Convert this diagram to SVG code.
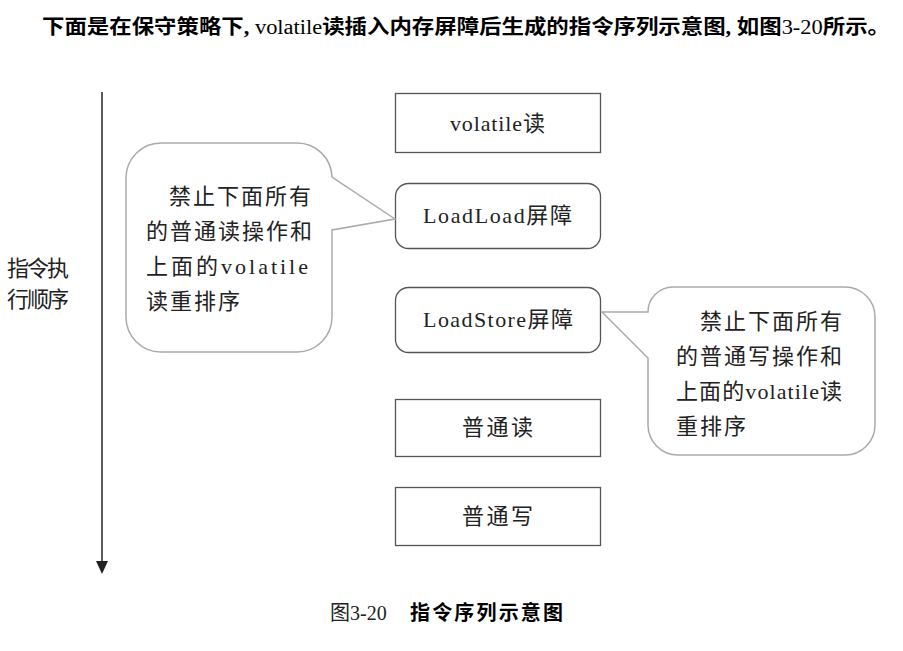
<svg xmlns="http://www.w3.org/2000/svg" width="903" height="651" viewBox="0 0 903 651">
<style>
.t{font-family:"Liberation Serif","Noto Sans CJK SC",serif;fill:#222;}
.box{fill:#fff;stroke:#555;stroke-width:1.3;}
.bub{fill:#fff;stroke:#aaa;stroke-width:1.5;}
.hd{font-family:"Liberation Serif","Noto Sans CJK SC",serif;fill:#000;font-weight:bold;}
</style>
<rect width="903" height="651" fill="#fff"/>
<text class="hd" x="42" y="34" font-size="20" textLength="848" lengthAdjust="spacingAndGlyphs">下面是在保守策略下, <tspan font-weight="normal">volatile</tspan>读插入内存屏障后生成的指令序列示意图, 如图<tspan font-weight="normal">3-20</tspan>所示。</text>
<g id="axis">
<line x1="102" y1="92" x2="102" y2="562" stroke="#222" stroke-width="1.5"/>
<polygon points="96,561 108,561 102,574" fill="#222"/>
<text class="t" x="7" y="276" font-size="22" textLength="62">指令执</text>
<text class="t" x="7" y="307" font-size="22" textLength="62">行顺序</text>
</g>
<g id="connectors"></g>
<g id="n1"><rect class="box" x="395.5" y="93.5" width="205" height="59"/><text class="t" x="450" y="131" font-size="22" textLength="95">volatile读</text></g>
<g id="n2"><rect class="box" x="395.5" y="183.5" width="205" height="65" rx="13"/><text class="t" x="423" y="223" font-size="22" textLength="149">LoadLoad屏障</text></g>
<g id="n3"><rect class="box" x="395.5" y="287.5" width="205" height="65" rx="13"/><text class="t" x="423" y="327" font-size="22" textLength="150">LoadStore屏障</text></g>
<g id="n4"><rect class="box" x="395.5" y="399.5" width="205" height="57"/><text class="t" x="462" y="435" font-size="22" textLength="71">普通读</text></g>
<g id="n5"><rect class="box" x="395.5" y="487.5" width="205" height="58"/><text class="t" x="462" y="524" font-size="22" textLength="71">普通写</text></g>
<g id="callout1">
<path class="bub" d="M161,143 H297 A35 35 0 0 1 332,177 L395,219 L332,230 V317 A35 35 0 0 1 297,352 H161 A35 35 0 0 1 126,317 V178 A35 35 0 0 1 161,143 Z"/>
<text class="t" font-size="22"><tspan x="169" y="204" textLength="142">禁止下面所有</tspan><tspan x="146" y="239" textLength="166">的普通读操作和</tspan><tspan x="146" y="274" textLength="162">上面的volatile</tspan><tspan x="146" y="309" textLength="94">读重排序</tspan></text>
</g>
<g id="callout2">
<path class="bub" d="M602,312 H648 A25 25 0 0 1 673,287 H845 A30 30 0 0 1 875,317 V425 A30 30 0 0 1 845,455 H678 A30 30 0 0 1 648,425 V358 Z"/>
<text class="t" font-size="22"><tspan x="700" y="329" textLength="142">禁止下面所有</tspan><tspan x="676" y="364" textLength="166">的普通写操作和</tspan><tspan x="676" y="399" textLength="166">上面的volatile读</tspan><tspan x="676" y="434" textLength="70">重排序</tspan></text>
</g>
<g id="caption">
<text class="t" x="330" y="620" font-size="20" fill="#000">图3-20</text>
<text class="hd" x="410" y="620" font-size="20" textLength="153">指令序列示意图</text>
</g>
</svg>
